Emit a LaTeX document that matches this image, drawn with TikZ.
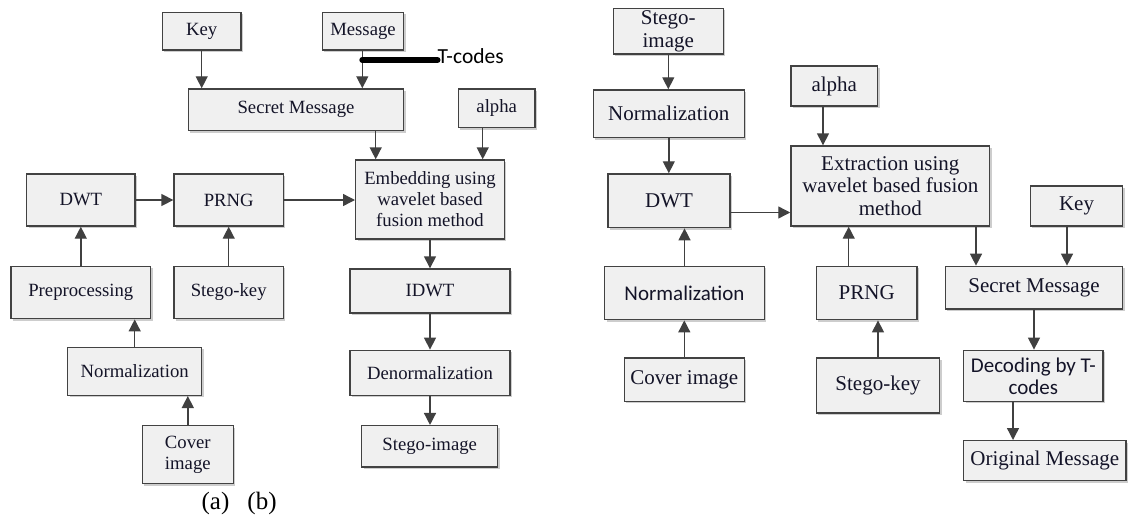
\documentclass[tikz,border=0pt]{standalone}
\usepackage{fontspec}
\setmainfont{Liberation Serif}
\newfontfamily\calib{Carlito}
\usetikzlibrary{arrows.meta,shadows}
\definecolor{boxfill}{RGB}{240,240,240}
\definecolor{boxline}{RGB}{66,66,66}
\definecolor{arrcol}{RGB}{64,64,64}
\definecolor{shadowcol}{RGB}{205,205,205}
\definecolor{txtcol}{RGB}{20,20,40}
\begin{document}
\begin{tikzpicture}[x=1pt,y=-1pt,
  box/.style={draw=boxline, fill=boxfill, line width=1.4pt, inner sep=0pt, align=center, text=txtcol,
    drop shadow={shadow xshift=2pt, shadow yshift=-2pt, fill=shadowcol, opacity=1}},
  lt/.style={font=\fontsize{18.7}{21}\selectfont},
  rt/.style={font=\fontsize{21}{22.5}\selectfont},
  rs/.style={font=\calib\fontsize{21}{22}\selectfont},
  lbl/.style={inner sep=0pt, text=black},
  arr/.style={draw=arrcol, line width=1.4pt, -{Triangle[length=12pt,width=12pt]}},
  tbar/.style={draw=black, line width=6pt, line cap=round},
]
\useasboundingbox (0,0) rectangle (1129,517);

% ---------- (a) embedding ----------
\node[box,lt,minimum width=78.7pt,minimum height=37.7pt] (keyA) at (201.7,31.2) {Key};
\node[box,lt,minimum width=81.4pt,minimum height=37.7pt] (msgA) at (363,31.2) {Message};
\node[box,lt,minimum width=215.4pt,minimum height=41.7pt] (secA) at (296,109.8) {Secret Message};
\node[box,lt,minimum width=76.7pt,minimum height=38.7pt] (alphaA) at (496.7,108.3) {alpha};
\node[box,lt,minimum width=148.6pt,minimum height=79pt] (embA) at (430,199.5) {Embedding using\\wavelet based\\fusion method};
\node[box,lt,minimum width=108.3pt,minimum height=52pt] (dwtA) at (80.8,200) {DWT};
\node[box,lt,minimum width=109.3pt,minimum height=52pt] (prngA) at (228.7,200) {PRNG};
\node[box,lt,minimum width=139.7pt,minimum height=52.4pt] (preA) at (80.8,292.5) {Preprocessing};
\node[box,lt,minimum width=109.3pt,minimum height=52.4pt] (skA) at (228.7,292.5) {Stego-key};
\node[box,lt,minimum width=134pt,minimum height=48pt] (normA) at (134.7,371.3) {Normalization};
\node[box,lt,minimum width=91pt,minimum height=58pt] (covA) at (187.8,454.7) {Cover\\image};
\node[box,lt,minimum width=160pt,minimum height=44pt] (idwtA) at (430,291) {IDWT};
\node[box,lt,minimum width=160pt,minimum height=45pt] (denA) at (430,372.8) {Denormalization};
\node[box,lt,minimum width=135.9pt,minimum height=41.3pt] (sgA) at (429.7,446.3) {Stego-image};

\node[lbl,font=\calib\fontsize{21.5}{22}\selectfont,anchor=west] (tcodes) at (437.5,56.5) {T-codes};
\coordinate (tc0) at (362.3,60);
\coordinate (xa1) at (375.7,0);
\coordinate (xa2) at (482.7,0);

\node[lbl,font=\fontsize{25}{28}\selectfont] (la) at (215.5,503) {(a)};
\node[lbl,font=\fontsize{25}{28}\selectfont] (lb) at (262,503) {(b)};

\draw[arr] (keyA.south) -- (keyA.south |- secA.north);
\draw[arr] (msgA.south -| tc0) -- (secA.north -| tc0);
\draw[tbar] (tc0) -- (tcodes.west |- tc0);
\draw[arr] (secA.south -| xa1) -- (embA.north -| xa1);
\draw[arr] (alphaA.south -| xa2) -- (embA.north -| xa2);
\draw[arr] (dwtA.east) -- (prngA.west);
\draw[arr] (prngA.east) -- (prngA.east -| embA.west);
\draw[arr] (preA.north) -- (preA.north |- dwtA.south);
\draw[arr] (skA.north) -- (skA.north |- prngA.south);
\draw[arr] (normA.north) -- (normA.north |- preA.south);
\draw[arr] (covA.north) -- (covA.north |- normA.south);
\draw[arr] (embA.south) -- (embA.south |- idwtA.north);
\draw[arr] (idwtA.south) -- (idwtA.south |- denA.north);
\draw[arr] (denA.south) -- (denA.south |- sgA.north);

% ---------- (b) extraction ----------
\node[box,rt,minimum width=110pt,minimum height=45.7pt] (sgB) at (668.3,31.2) {Stego-\\image};
\node[box,rt,minimum width=151pt,minimum height=47.7pt] (normB) at (668.8,113.8) {Normalization};
\node[box,rt,minimum width=122pt,minimum height=53.7pt] (dwtB) at (669,200.8) {DWT};
\node[box,rt,minimum width=86.7pt,minimum height=40pt] (alphaB) at (834.3,86) {alpha};
\node[box,rt,minimum width=198.7pt,minimum height=80pt] (extB) at (890.3,186) {Extraction using\\wavelet based fusion\\method};
\node[box,rt,minimum width=92.4pt,minimum height=40pt] (keyB) at (1076.5,206) {Key};
\node[box,rs,minimum width=159.6pt,minimum height=53.4pt] (norm2B) at (684.5,293) {Normalization};
\node[box,rt,minimum width=120pt,minimum height=43.3pt] (covB) at (684.3,379.7) {Cover image};
\node[box,rt,minimum width=100.7pt,minimum height=53.4pt] (prngB) at (866.7,293) {PRNG};
\node[box,rt,minimum width=123.4pt,minimum height=55pt] (skB) at (878,385.5) {Stego-key};
\node[box,rt,minimum width=177.4pt,minimum height=42.7pt] (secB) at (1034,287.7) {Secret Message};
\node[box,rs,minimum width=139.3pt,minimum height=51pt] (decB) at (1033.3,375.8) {Decoding by T-\\codes};
\node[box,rt,minimum width=162.2pt,minimum height=40pt] (origB) at (1044.8,460.7) {Original Message};

\coordinate (xb1) at (823,0);
\coordinate (yb1) at (0,212.5);
\coordinate (xb2) at (848.7,0);
\coordinate (xb3) at (976,0);
\coordinate (xb4) at (1067,0);
\coordinate (xb5) at (1013,0);

\draw[arr] (sgB.south) -- (sgB.south |- normB.north);
\draw[arr] (normB.south) -- (normB.south |- dwtB.north);
\draw[arr] (alphaB.south -| xb1) -- (extB.north -| xb1);
\draw[arr] (dwtB.east |- yb1) -- (extB.west |- yb1);
\draw[arr] (norm2B.north) -- (norm2B.north |- dwtB.south);
\draw[arr] (covB.north) -- (covB.north |- norm2B.south);
\draw[arr] (prngB.north -| xb2) -- (extB.south -| xb2);
\draw[arr] (skB.north) -- (skB.north |- prngB.south);
\draw[arr] (extB.south -| xb3) -- (secB.north -| xb3);
\draw[arr] (keyB.south -| xb4) -- (secB.north -| xb4);
\draw[arr] (secB.south) -- (secB.south |- decB.north);
\draw[arr] (decB.south -| xb5) -- (origB.north -| xb5);
\end{tikzpicture}
\end{document}
